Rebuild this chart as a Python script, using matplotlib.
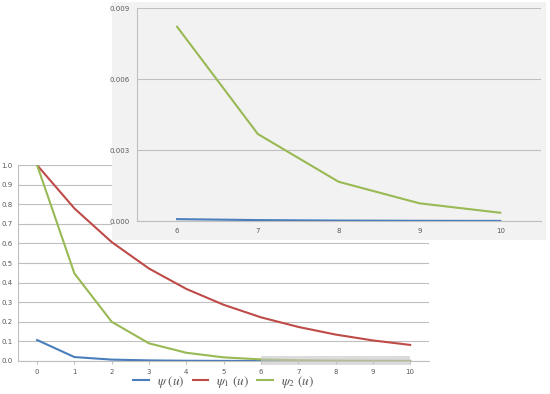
import matplotlib.pyplot as plt
from matplotlib.patches import Rectangle

# values
u = [0, 1, 2, 3, 4, 5, 6, 7, 8, 9, 10]
psi = [0.107, 0.020, 0.007, 0.003, 0.0012, 0.0005, 0.00008, 0.00004, 0.00002, 0.00001, 0.000005]
psi1 = [1.0, 0.779, 0.607, 0.472, 0.368, 0.287, 0.223, 0.174, 0.135, 0.105, 0.082]
psi2 = [1.0, 0.447, 0.200, 0.090, 0.042, 0.0185, 0.00822, 0.00368, 0.00166, 0.00075, 0.00035]
labels = [r'$\psi\ (u)$', r'$\psi_1\ (u)$', r'$\psi_2\ (u)$']
colors = ['#4a7ebb', '#be4b48', '#98b954']

main_yticks = [0.0, 0.1, 0.2, 0.3, 0.4, 0.5, 0.6, 0.7, 0.8, 0.9, 1.0]
inset_start = 6
inset_yticks = [0.000, 0.003, 0.006, 0.009]

plt.rcParams['mathtext.fontset'] = 'stix'
text_color = '#595959'
grid_color = '#bfbfbf'

fig = plt.figure(figsize=(5.5, 3.94), dpi=100)

# main chart
ax = fig.add_axes([0.0336, 0.0838, 0.746, 0.497])
lines = []
for ys, c, lab in zip([psi, psi1, psi2], colors, labels):
    ln, = ax.plot(u, ys, color=c, lw=1.5, label=lab, zorder=3)
    lines.append(ln)
ax.set_xlim(-0.5, 10.5)
ax.set_ylim(0, 1.0)
ax.set_xticks(u)
ax.set_yticks(main_yticks)
ax.set_yticklabels([f'{v:.1f}' for v in main_yticks])
ax.grid(axis='y', color=grid_color, lw=0.8)
ax.set_axisbelow(True)
for s in ['top', 'right']:
    ax.spines[s].set_visible(False)
ax.spines['left'].set_color(grid_color)
ax.spines['bottom'].set_color(grid_color)
ax.tick_params(labelsize=5, colors=text_color, length=2, color=grid_color)
ax.tick_params(axis='y', length=0, pad=4)

# zoom region marker
ax.add_patch(Rectangle((inset_start, -0.022), u[-1] - inset_start, 0.047,
                       color='#c4c4c4', alpha=0.6, lw=0, zorder=4, clip_on=False))

ax.legend(handles=lines, loc='center', bbox_to_anchor=(0.5, -0.107),
          ncol=3, frameon=False, fontsize=9.5, handlelength=1.2,
          handletextpad=0.6, columnspacing=0.6, labelcolor=text_color,
          borderpad=0, borderaxespad=0)

# inset panel
panel = fig.add_axes([0.2036, 0.391, 0.79, 0.604])
panel.set_facecolor('#f2f2f2')
panel.set_xticks([])
panel.set_yticks([])
for s in panel.spines.values():
    s.set_visible(False)

ins = fig.add_axes([0.2485, 0.439, 0.7345, 0.54])
ins.set_facecolor('#f2f2f2')
ins.plot(u[inset_start:], psi[inset_start:], color=colors[0], lw=1.5, zorder=3)
ins.plot(u[inset_start:], psi2[inset_start:], color=colors[2], lw=1.5, zorder=3)
ins.set_xlim(inset_start - 0.5, u[-1] + 0.5)
ins.set_ylim(0, 0.009)
ins.set_xticks(u[inset_start:])
ins.set_yticks(inset_yticks)
ins.set_yticklabels([f'{v:.3f}' for v in inset_yticks])
ins.grid(axis='y', color=grid_color, lw=0.8)
ins.set_axisbelow(True)
for s in ['top', 'right']:
    ins.spines[s].set_visible(False)
ins.spines['left'].set_color(grid_color)
ins.spines['bottom'].set_color(grid_color)
ins.tick_params(labelsize=5, colors=text_color, length=0, pad=5)

fig.savefig('out.png', dpi=100)
